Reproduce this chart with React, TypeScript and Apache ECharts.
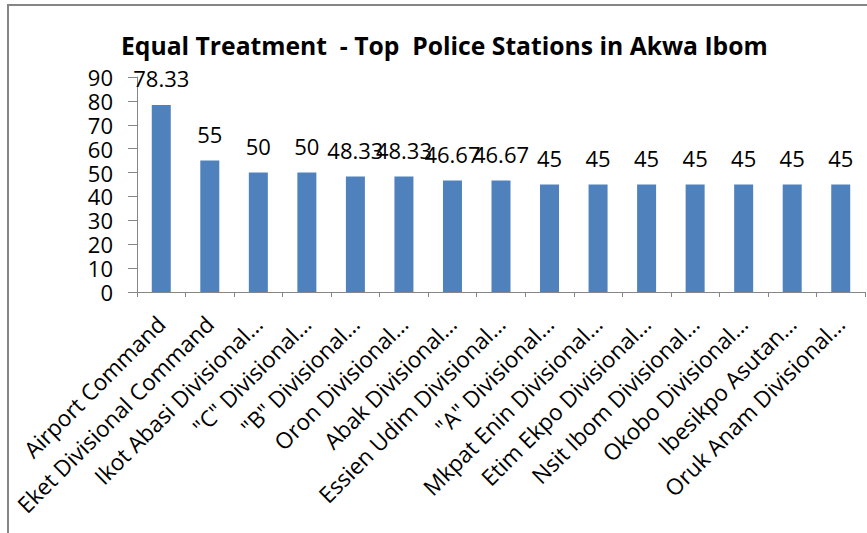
import React, { useEffect, useRef } from "react";
import * as echarts from "echarts";

const titleText = "Equal Treatment  - Top  Police Stations in Akwa Ibom";
const categories = [
  "Airport Command",
  "Eket Divisional Command",
  "Ikot Abasi Divisional…",
  "\"C\" Divisional…",
  "\"B\" Divisional…",
  "Oron Divisional…",
  "Abak Divisional…",
  "Essien Udim Divisional…",
  "\"A\" Divisional…",
  "Mkpat Enin Divisional…",
  "Etim Ekpo Divisional…",
  "Nsit Ibom Divisional…",
  "Okobo Divisional…",
  "Ibesikpo Asutan…",
  "Oruk Anam Divisional…",
];
const values = [78.33, 55, 50, 50, 48.33, 48.33, 46.67, 46.67, 45, 45, 45, 45, 45, 45, 45];
const yMin = 0;
const yMax = 90;
const yInterval = 10;

const FONT = "'Open Sans', 'Noto Sans', sans-serif";

export default function App() {
  const ref = useRef<HTMLDivElement>(null);
  useEffect(() => {
    document.body.style.margin = "0";
    const chart = echarts.init(ref.current!, null, { renderer: "svg" });
    chart.setOption({
      animation: false,
      backgroundColor: "#ffffff",
      title: {
        text: titleText,
        left: 116,
        top: 28,
        textStyle: { fontFamily: FONT, fontWeight: "bold", fontSize: 24.7, color: "#000" },
      },
      graphic: [
        {
          type: "rect",
          shape: { x: 8, y: 5, width: 900, height: 600 },
          style: { fill: "none", stroke: "#858585", lineWidth: 2 },
          silent: true,
        },
      ],
      grid: { left: 137, right: 2, top: 77, bottom: 241, containLabel: false },
      xAxis: {
        type: "category",
        data: categories,
        axisLine: { lineStyle: { color: "#868686", width: 1 } },
        axisTick: { show: true, length: 5, lineStyle: { color: "#868686" } },
        axisLabel: {
          rotate: 45,
          interval: 0,
          margin: 28,
          fontFamily: FONT,
          fontSize: 22.5,
          lineHeight: 22,
          color: "#000",
        },
      },
      yAxis: {
        type: "value",
        min: yMin,
        max: yMax,
        interval: yInterval,
        splitLine: { show: false },
        axisLine: { show: true, lineStyle: { color: "#868686", width: 1 } },
        axisTick: { show: true, length: 9, lineStyle: { color: "#868686" } },
        axisLabel: { margin: 24, fontFamily: FONT, fontSize: 22, lineHeight: 20, color: "#000" },
      },
      series: [
        {
          type: "bar",
          data: values,
          barWidth: 19,
          itemStyle: { color: "#4F81BD" },
          label: {
            show: true,
            position: "top",
            distance: 16,
            fontFamily: FONT,
            fontSize: 22,
            color: "#000",
          },
        },
      ],
    });
    return () => chart.dispose();
  }, []);
  return <div ref={ref} style={{ position: "absolute", left: 0, top: 0, width: 867, height: 533 }} />;
}
